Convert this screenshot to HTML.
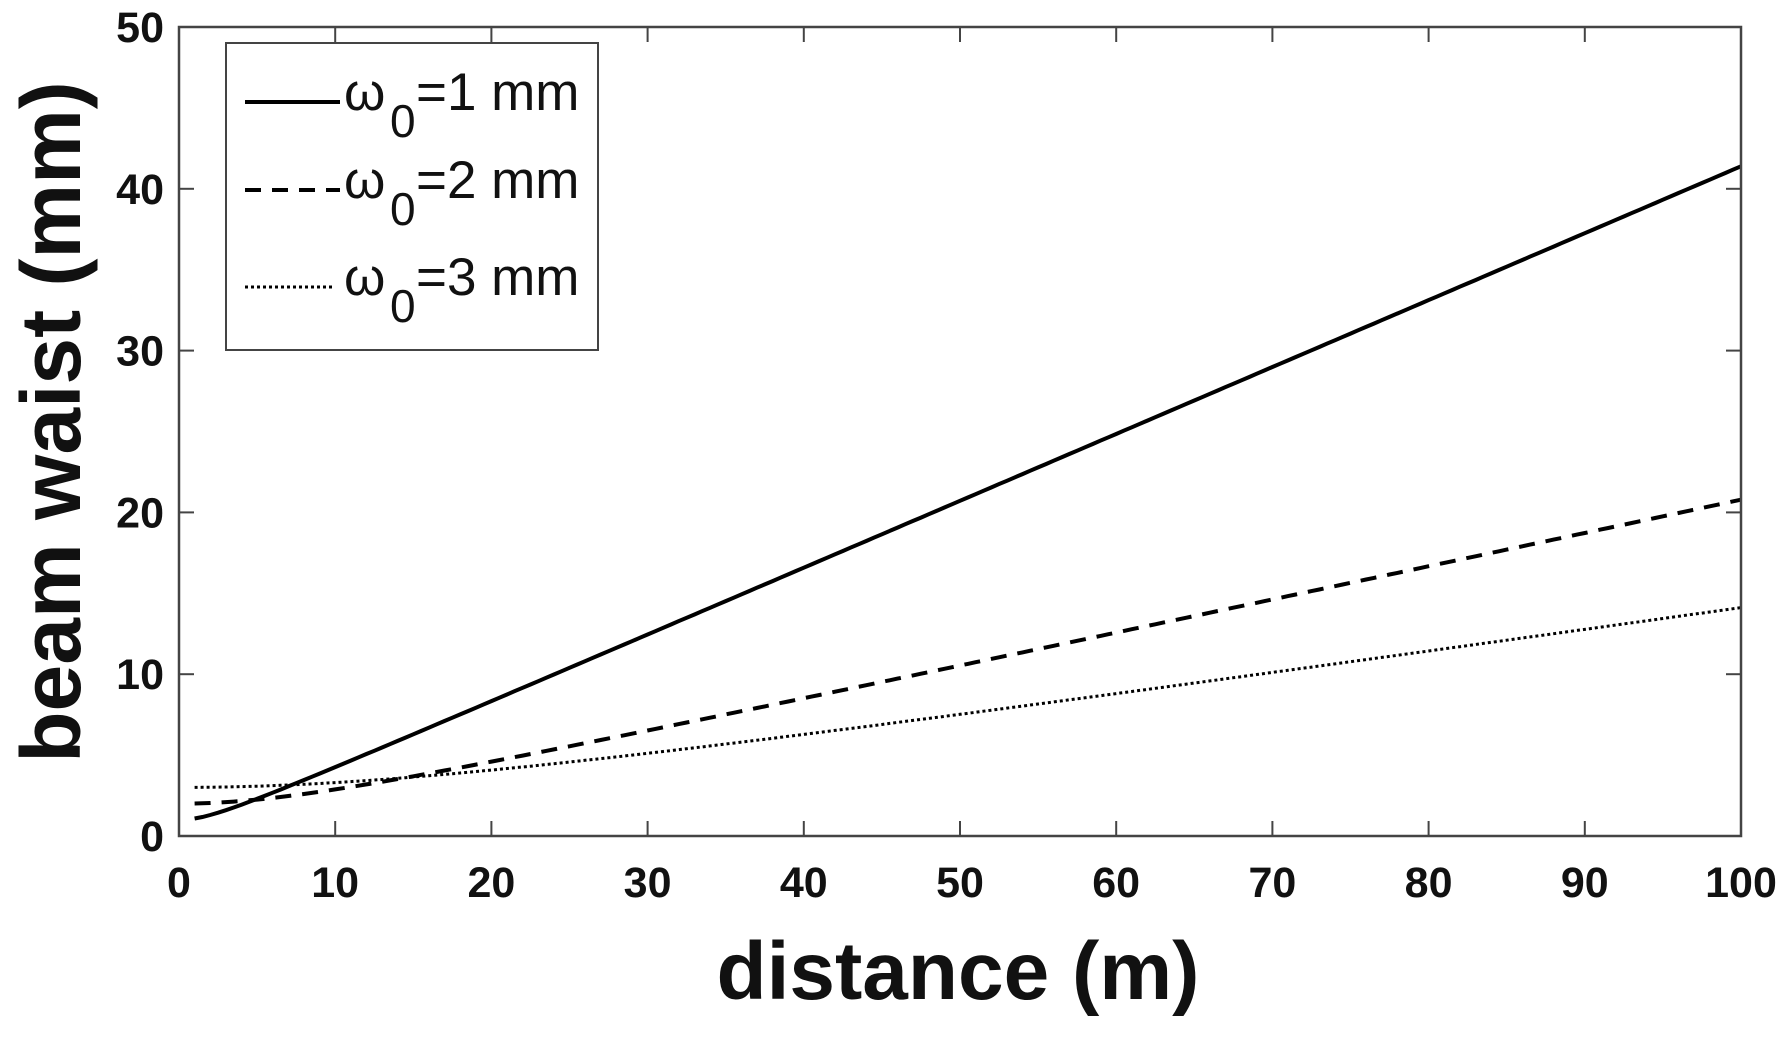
<!DOCTYPE html>
<html><head><meta charset="utf-8"><style>
html,body{margin:0;padding:0;background:#fff}
svg{display:block}
text{font-family:"Liberation Sans",Arial,sans-serif;fill:#111}
.tk{font-weight:bold;font-size:43px}
</style></head><body>
<svg id="s" width="1790" height="1038" viewBox="0 0 1790 1038" xmlns="http://www.w3.org/2000/svg">
<g id="curves" fill="none" stroke="#000" stroke-width="4"></g>
<rect x="179" y="27" width="1562" height="809" fill="none" stroke="#444" stroke-width="2.5"/>
<g id="ticks" stroke="#444" stroke-width="2"></g>
<g id="labels"></g>
<rect x="226" y="43" width="372" height="307" fill="#fff" stroke="#444" stroke-width="2"/>
<line x1="245" y1="102" x2="340" y2="102" stroke="#000" stroke-width="4"/>
<line x1="245" y1="190" x2="340" y2="190" stroke="#000" stroke-width="4" stroke-dasharray="16,11"/>
<line x1="245" y1="287" x2="335" y2="287" stroke="#000" stroke-width="3" stroke-dasharray="3,3"/>
<text x="344" y="110" font-size="53">ω</text><text x="390" y="137" font-size="46">0</text><text x="416" y="110" font-size="53">=1 mm</text>
<text x="344" y="198" font-size="53">ω</text><text x="390" y="225" font-size="46">0</text><text x="416" y="198" font-size="53">=2 mm</text>
<text x="344" y="295" font-size="53">ω</text><text x="390" y="322" font-size="46">0</text><text x="416" y="295" font-size="53">=3 mm</text>
<text x="958" y="999" font-size="82" font-weight="bold" text-anchor="middle">distance (m)</text>
<text transform="translate(80,422) rotate(-90)" font-size="84" font-weight="bold" text-anchor="middle">beam waist (mm)</text>
</svg>
<script>
var X0=179,X1=1741,Y0=836,Y1=27;
function px(z){return X0+(X1-X0)*z/100}
function py(w){return Y0-(Y0-Y1)*w/50}
var ns="http://www.w3.org/2000/svg";
var lam=1.3e-6;
var cfg=[[1,"",4],[2,"16,11",4],[3,"3,3",3]];
var g=document.getElementById("curves");
cfg.forEach(function(c){
 var w0=c[0]*1e-3,zr=Math.PI*w0*w0/lam,d="";
 for(var z=1;z<=100.001;z+=0.5){var w=c[0]*Math.sqrt(1+(z/zr)*(z/zr));d+=(d?"L":"M")+px(z).toFixed(1)+","+py(w).toFixed(1);}
 var p=document.createElementNS(ns,"path");p.setAttribute("d",d);p.setAttribute("stroke-width",c[2]);
 if(c[1])p.setAttribute("stroke-dasharray",c[1]);g.appendChild(p);
});
var t=document.getElementById("ticks"),l=document.getElementById("labels");
function ln(a,b,c,d){var e=document.createElementNS(ns,"line");e.setAttribute("x1",a);e.setAttribute("y1",b);e.setAttribute("x2",c);e.setAttribute("y2",d);t.appendChild(e);}
function tx(x,y,s,a){var e=document.createElementNS(ns,"text");e.setAttribute("x",x);e.setAttribute("y",y);e.setAttribute("class","tk");e.setAttribute("text-anchor",a);e.textContent=s;l.appendChild(e);}
for(var i=0;i<=10;i++){var x=px(i*10);ln(x,Y0,x,Y0-15);ln(x,Y1,x,Y1+15);tx(x,897,String(i*10),"middle");}
for(var j=0;j<=5;j++){var y=py(j*10);ln(X0,y,X0+15,y);ln(X1,y,X1-15,y);tx(164,y+15,String(j*10),"end");}
</script>
</body></html>
